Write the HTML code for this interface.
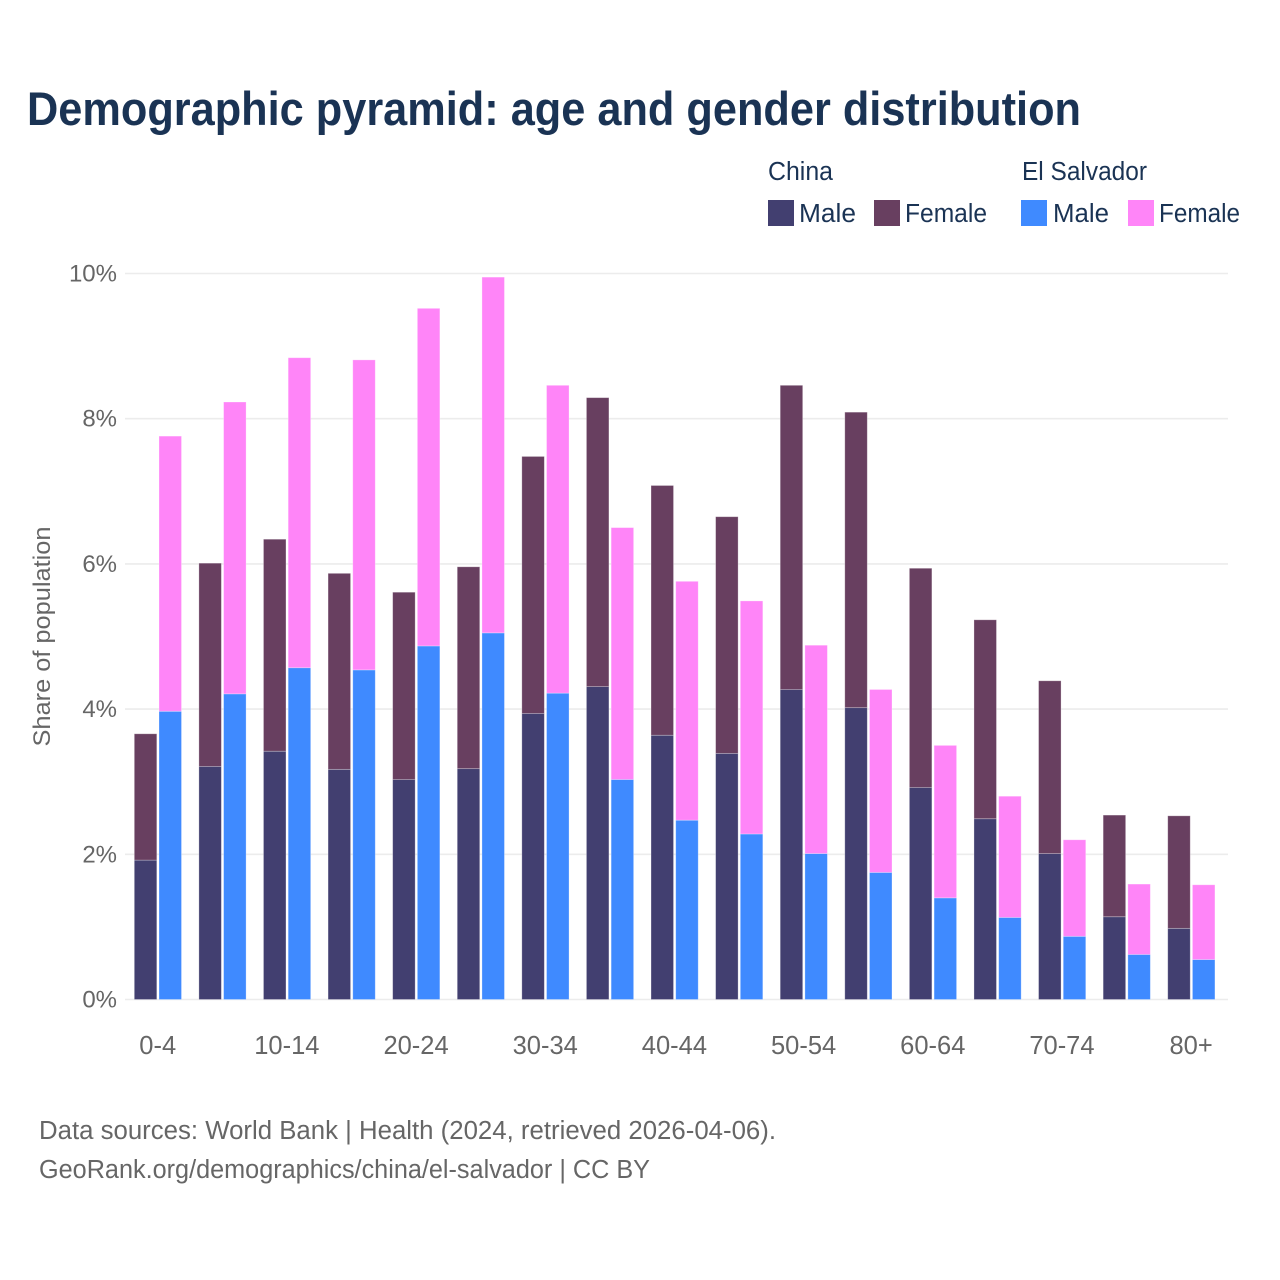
<!DOCTYPE html>
<html lang="en">
<head>
<meta charset="utf-8">
<title>Demographic pyramid: age and gender distribution</title>
<style>
html,body{margin:0;padding:0;background:#fff;}
svg{display:block;font-family:"Liberation Sans",Arial,sans-serif;}
</style>
</head>
<body>
<svg id="chart" xmlns="http://www.w3.org/2000/svg" width="1280" height="1280" viewBox="0 0 1280 1280">
  <rect x="0" y="0" width="1280" height="1280" fill="#ffffff"/>
  <text x="27" y="125" font-size="47" font-weight="700" fill="#1a3354" textLength="1054" lengthAdjust="spacingAndGlyphs">Demographic pyramid: age and gender distribution</text>

  <g font-size="25.5" fill="#1a3354">
    <text x="768" y="180" textLength="65" lengthAdjust="spacingAndGlyphs">China</text>
    <text x="1022" y="180" textLength="125" lengthAdjust="spacingAndGlyphs">El Salvador</text>
    <rect x="768" y="200" width="26" height="26" fill="#423f70"/>
    <text x="799" y="222" textLength="57" lengthAdjust="spacingAndGlyphs">Male</text>
    <rect x="874" y="200" width="26" height="26" fill="#683f60"/>
    <text x="905" y="222" textLength="82" lengthAdjust="spacingAndGlyphs">Female</text>
    <rect x="1021" y="200" width="26" height="26" fill="#3f8aff"/>
    <text x="1053" y="222" textLength="56" lengthAdjust="spacingAndGlyphs">Male</text>
    <rect x="1128" y="200" width="26" height="26" fill="#ff85f8"/>
    <text x="1159" y="222" textLength="81" lengthAdjust="spacingAndGlyphs">Female</text>
  </g>

  <g id="grid"></g>
  <g id="yticks"></g>
  <g id="bars"></g>
  <g id="xticks"></g>

  <text transform="translate(50,636.5) rotate(-90)" text-anchor="middle" font-size="24" fill="#666666" textLength="220" lengthAdjust="spacingAndGlyphs">Share of population</text>

  <text x="39" y="1139" font-size="25.5" fill="#666666" textLength="737" lengthAdjust="spacingAndGlyphs">Data sources: World Bank | Health (2024, retrieved 2026-04-06).</text>
  <text x="39" y="1178" font-size="25.5" fill="#666666" textLength="611" lengthAdjust="spacingAndGlyphs">GeoRank.org/demographics/china/el-salvador | CC BY</text>
</svg>
<script>
const categories = ['0-4','5-9','10-14','15-19','20-24','25-29','30-34','35-39','40-44','45-49','50-54','55-59','60-64','65-69','70-74','75-79','80+'];
const chinaMale = [1.92,3.21,3.42,3.17,3.03,3.18,3.94,4.31,3.64,3.39,4.27,4.02,2.92,2.49,2.01,1.14,0.98];
const chinaFemale = [1.74,2.80,2.92,2.70,2.58,2.78,3.54,3.98,3.44,3.26,4.19,4.07,3.02,2.74,2.38,1.40,1.55];
const elSalvadorMale = [3.97,4.21,4.57,4.54,4.87,5.05,4.22,3.03,2.47,2.28,2.01,1.75,1.40,1.13,0.87,0.62,0.55];
const elSalvadorFemale = [3.79,4.02,4.27,4.27,4.65,4.90,4.24,3.47,3.29,3.21,2.87,2.52,2.10,1.67,1.33,0.97,1.03];
const yTicks = [0,2,4,6,8,10];

const NS = 'http://www.w3.org/2000/svg';
function yScale(v){ return 999.5 - v * 72.6; }
function xScale(i){ return 134.3 + i * 64.59; }
const barWidth = 22.5;
const seriesOffset = 24.7;

const gridGroup = document.getElementById('grid');
const yTickGroup = document.getElementById('yticks');
yTicks.forEach(function(t){
  const line = document.createElementNS(NS,'line');
  
  
  line.setAttribute('x1', 125);
  line.setAttribute('x2', 1228);
  line.setAttribute('y1', yScale(t));
  line.setAttribute('y2', yScale(t));
  line.setAttribute('stroke', '#ececec');
  line.setAttribute('stroke-width', 1.6);
  gridGroup.appendChild(line);
  const label = document.createElementNS(NS,'text');
  
  
  label.setAttribute('x', 117);
  label.setAttribute('y', yScale(t) + 8);
  label.setAttribute('text-anchor', 'end');
  label.setAttribute('font-size', 24);
  label.setAttribute('fill', '#666666');
  label.textContent = t + '%';
  yTickGroup.appendChild(label);
});

const barGroup = document.getElementById('bars');
function addBar(x, base, value, color, name){
  const top = yScale(base + value);
  const bottom = yScale(base);
  const r = document.createElementNS(NS,'rect');
  
  
  r.setAttribute('x', x);
  r.setAttribute('y', top);
  r.setAttribute('width', barWidth);
  r.setAttribute('height', bottom - top);
  r.setAttribute('fill', color);
  r.setAttribute('stroke', '#ffffff');
  r.setAttribute('stroke-opacity', 0.35);
  r.setAttribute('stroke-width', 0.8);
  barGroup.appendChild(r);
}
categories.forEach(function(c, i){
  addBar(xScale(i), 0, chinaMale[i], '#423f70', 'bar-china-male');
  addBar(xScale(i), chinaMale[i], chinaFemale[i], '#683f60', 'bar-china-female');
  addBar(xScale(i) + seriesOffset, 0, elSalvadorMale[i], '#3f8aff', 'bar-el-salvador-male');
  addBar(xScale(i) + seriesOffset, elSalvadorMale[i], elSalvadorFemale[i], '#ff85f8', 'bar-el-salvador-female');
});

const xTickGroup = document.getElementById('xticks');
categories.forEach(function(c, i){
  if (i % 2 !== 0) return;
  const label = document.createElementNS(NS,'text');
  
  
  label.setAttribute('x', xScale(i) + 23.4);
  label.setAttribute('y', 1054);
  label.setAttribute('text-anchor', 'middle');
  label.setAttribute('font-size', 25.5);
  label.setAttribute('fill', '#666666');
  label.textContent = c;
  xTickGroup.appendChild(label);
});
</script>
</body>
</html>
